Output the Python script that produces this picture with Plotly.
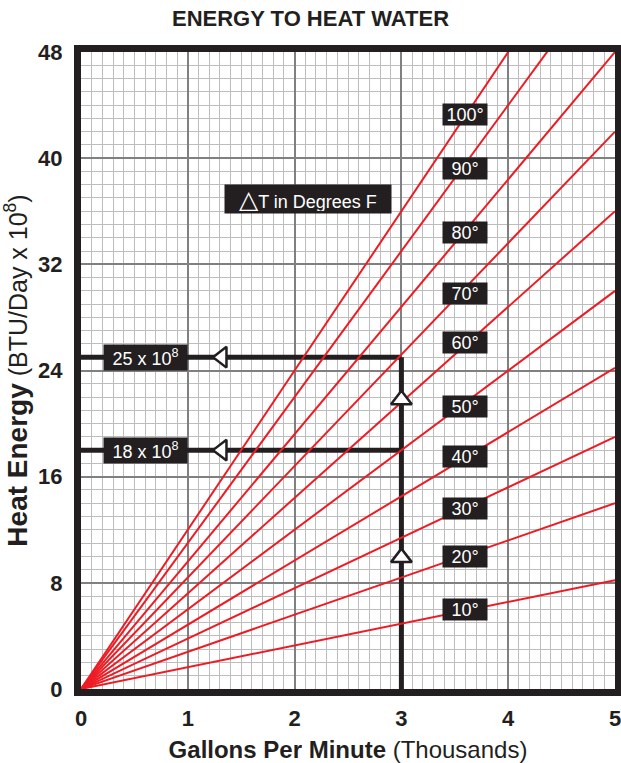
import plotly.graph_objects as go

# ---- data ----
delta_t = [10, 20, 30, 40, 50, 60, 70, 80, 90, 100]
energy_at_5k_gpm = [8.2, 14, 19, 24.2, 30, 36, 42, 48, 55, 60]   # BTU/day x 10^8 at 5 thousand gpm
label_x = [3.6] * 10
label_y = [6.0, 10.0, 13.6, 17.5, 21.3, 26.1, 29.8, 34.4, 39.2, 43.3]
example_flow = 3
example_energy = [18, 25]
example_labels = ["18 x 10<sup>8</sup>", "25 x 10<sup>8</sup>"]
left_arrow_x = 1.32
up_arrow_y = [9.9, 21.8]
x_ticks = [0, 1, 2, 3, 4, 5]
y_ticks = [0, 8, 16, 24, 32, 40, 48]

RED = "#ed1c24"
INK = "#231f20"
FONT = "Liberation Sans, Arial, sans-serif"

fig = go.Figure()

# example reading lines (thick black)
for e in example_energy:
    fig.add_trace(go.Scatter(x=[0, example_flow], y=[e, e], mode="lines",
                             line=dict(color=INK, width=5), hoverinfo="skip"))
fig.add_trace(go.Scatter(x=[example_flow, example_flow], y=[0, max(example_energy)], mode="lines",
                         line=dict(color=INK, width=5), hoverinfo="skip"))

# delta-T lines
for dt, e in zip(delta_t, energy_at_5k_gpm):
    fig.add_trace(go.Scatter(x=[0, 5], y=[0, e], mode="lines",
                             line=dict(color=RED, width=2), name=f"{dt}°", hoverinfo="skip"))

# arrows
fig.add_trace(go.Scatter(x=[left_arrow_x] * len(example_energy), y=example_energy, mode="markers",
                         marker=dict(symbol="triangle-left", size=18, color="white",
                                     line=dict(color=INK, width=2.5)), hoverinfo="skip"))
fig.add_trace(go.Scatter(x=[example_flow] * len(up_arrow_y), y=up_arrow_y, mode="markers",
                         marker=dict(symbol="triangle-up", size=18, color="white",
                                     line=dict(color=INK, width=2.5)), hoverinfo="skip"))

# delta-T labels
for dt, lx, ly in zip(delta_t, label_x, label_y):
    fig.add_annotation(x=lx, y=ly, text=f"{dt}°", showarrow=False,
                       font=dict(family=FONT, size=18, color="white"),
                       bgcolor=INK, borderpad=2, width=40, height=17)

# example value labels
for e, t in zip(example_energy, example_labels):
    fig.add_annotation(x=0.6, y=e, text=t, showarrow=False,
                       font=dict(family=FONT, size=18, color="white"),
                       bgcolor=INK, borderpad=2, width=79, height=21)

fig.add_annotation(x=2.13, y=36.9, text='<span style="font-size:25px">△</span>T in Degrees F',
                   showarrow=False,
                   font=dict(family=FONT, size=18, color="white"),
                   bgcolor=INK, borderpad=2, width=162, height=24)

fig.update_layout(
    width=621, height=763,
    margin=dict(l=81, r=6, t=52, b=74),
    paper_bgcolor="white", plot_bgcolor="white",
    showlegend=False,
    font=dict(family=FONT, color=INK),
    title=dict(text="<b>ENERGY TO HEAT WATER</b>", x=0.5, xanchor="center",
               y=1 - 18 / 763, yanchor="middle", font=dict(size=22, color=INK, family=FONT)),
)

fig.update_xaxes(range=[0, 5], tickvals=x_ticks, ticktext=[f"<b>{v}</b>" for v in x_ticks],
                 tickfont=dict(size=22, color=INK), ticklabelstandoff=4, automargin=False,
                 ticklabeloverflow="allow",
                 showgrid=True, gridcolor="#808080", gridwidth=1.5,
                 minor=dict(dtick=0.1, showgrid=True, gridcolor="#bdbdbd", gridwidth=1),
                 showline=True, mirror=True, linecolor=INK, linewidth=7, zeroline=False,
                 title=dict(text="<b>Gallons Per Minute</b> (Thousands)", standoff=14,
                            font=dict(size=24, color=INK)))
fig.update_yaxes(range=[0, 48], tickvals=y_ticks, ticktext=[f"<b>{v}</b>" for v in y_ticks],
                 tickfont=dict(size=22, color=INK), ticklabelstandoff=7, automargin=False,
                 ticklabeloverflow="allow",
                 showgrid=True, gridcolor="#808080", gridwidth=1.5,
                 minor=dict(dtick=1, showgrid=True, gridcolor="#bdbdbd", gridwidth=1),
                 showline=True, mirror=True, linecolor=INK, linewidth=7, zeroline=False,
                 title=dict(text='<b><span style="font-size:28px">Heat Energy</span></b> (BTU/Day x 10<sup>8</sup>)',
                            standoff=12, font=dict(size=25, color=INK)))

fig.write_html("out.html", config={"displayModeBar": False},
               post_script="document.body.style.margin='0';document.body.style.overflow='hidden';")
